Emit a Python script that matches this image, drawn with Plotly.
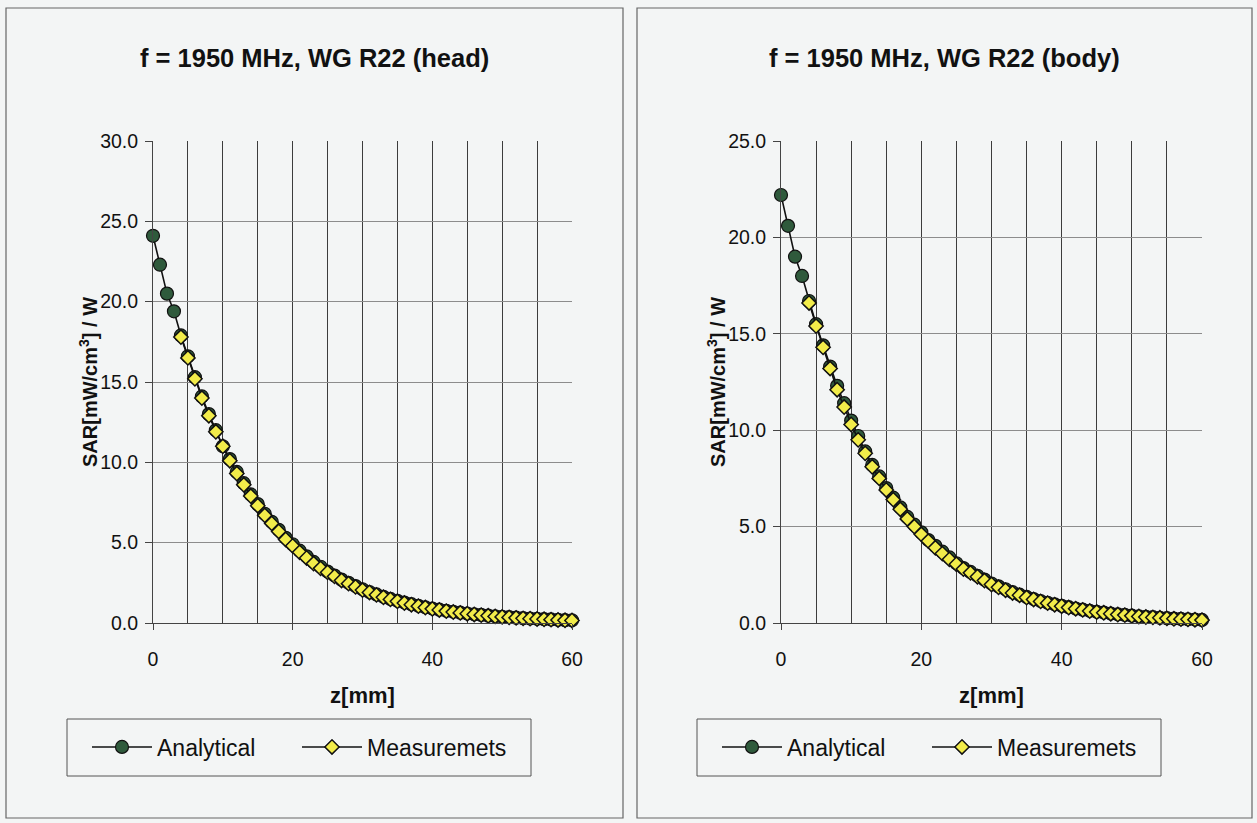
import plotly.graph_objects as go

# ---------------- data ----------------
z_analytical = list(range(0, 61))
z_measured = list(range(4, 61))

head_analytical = [24.1, 22.3, 20.5, 19.4, 17.9, 16.6, 15.3, 14.1, 13.0, 12.0,
                   11.0, 10.2, 9.4, 8.7, 8.0, 7.4, 6.8, 6.3, 5.8, 5.3,
                   4.9, 4.5, 4.15, 3.8, 3.5, 3.2, 2.95, 2.7, 2.5, 2.3,
                   2.1, 1.93, 1.78, 1.63, 1.5, 1.38, 1.27, 1.17, 1.07, 0.98,
                   0.9, 0.83, 0.76, 0.7, 0.64, 0.59, 0.54, 0.5, 0.46, 0.42,
                   0.39, 0.36, 0.33, 0.3, 0.28, 0.26, 0.24, 0.22, 0.2, 0.18, 0.17]
head_measured = [17.8, 16.5, 15.2, 14.0, 12.9, 11.9,
                 11.0, 10.1, 9.3, 8.6, 7.9, 7.3, 6.7, 6.2, 5.7, 5.2,
                 4.8, 4.4, 4.05, 3.7, 3.4, 3.15, 2.9, 2.65, 2.45, 2.25,
                 2.05, 1.9, 1.75, 1.6, 1.47, 1.35, 1.24, 1.14, 1.05, 0.96,
                 0.88, 0.81, 0.74, 0.68, 0.63, 0.58, 0.53, 0.49, 0.45, 0.41,
                 0.38, 0.35, 0.32, 0.29, 0.27, 0.25, 0.23, 0.21, 0.19, 0.17, 0.16]

body_analytical = [22.2, 20.6, 19.0, 18.0, 16.7, 15.5, 14.4, 13.3, 12.3, 11.4,
                   10.5, 9.7, 8.9, 8.2, 7.6, 7.0, 6.5, 6.0, 5.5, 5.1,
                   4.7, 4.3, 4.0, 3.7, 3.4, 3.1, 2.85, 2.65, 2.45, 2.25,
                   2.05, 1.9, 1.75, 1.6, 1.47, 1.35, 1.24, 1.14, 1.05, 0.97,
                   0.89, 0.82, 0.75, 0.69, 0.63, 0.58, 0.54, 0.49, 0.45, 0.42,
                   0.38, 0.35, 0.32, 0.3, 0.27, 0.25, 0.23, 0.21, 0.19, 0.18, 0.16]
body_measured = [16.6, 15.4, 14.3, 13.2, 12.1, 11.2,
                 10.3, 9.5, 8.8, 8.1, 7.5, 6.9, 6.4, 5.9, 5.4, 5.0,
                 4.6, 4.25, 3.9, 3.6, 3.3, 3.05, 2.8, 2.6, 2.4, 2.2,
                 2.0, 1.85, 1.7, 1.56, 1.44, 1.32, 1.22, 1.12, 1.03, 0.95,
                 0.87, 0.8, 0.74, 0.68, 0.62, 0.57, 0.53, 0.48, 0.44, 0.41,
                 0.37, 0.34, 0.31, 0.29, 0.27, 0.24, 0.22, 0.2, 0.19, 0.17, 0.15]

titles = ["f = 1950 MHz, WG R22 (head)", "f = 1950 MHz, WG R22 (body)"]
y_title = "SAR[mW/cm<sup>3</sup>] / W"
x_title = "z[mm]"
x_ticks = [0, 20, 40, 60]
x_grid = [5, 10, 15, 20, 25, 30, 35, 40, 45, 50, 55]
head_y_ticks = [0, 5, 10, 15, 20, 25, 30]
body_y_ticks = [0, 5, 10, 15, 20, 25]

# ---------------- figure ----------------
W, H = 1257, 823
FONT = "Liberation Sans, Arial, sans-serif"
BG = "#f3f5f5"
fig = go.Figure()

def px_x(p):
    return p / W

def px_y(p):
    return 1 - p / H

panels = [
    dict(xa="x", ya="y", xd=[px_x(153), px_x(572)], yvals=head_analytical, mvals=head_measured,
         legend="legend", title=titles[0], cx=314, ytx=88, box=(6, 8, 623, 818),
         lbox=(67, 719, 531, 776)),
    dict(xa="x2", ya="y2", xd=[px_x(781), px_x(1202)], yvals=body_analytical, mvals=body_measured,
         legend="legend2", title=titles[1], cx=944, ytx=716, box=(637, 8, 1252, 818),
         lbox=(697, 719, 1161, 776)),
]

shapes = []
annotations = []
for i, p in enumerate(panels):
    fig.add_trace(go.Scatter(
        x=z_analytical, y=p["yvals"], mode="lines+markers", name="Analytical",
        xaxis=p["xa"], yaxis=p["ya"], legend=p["legend"], cliponaxis=False,
        line=dict(color="#111111", width=1.6),
        marker=dict(symbol="circle", size=13, color="#2f5a3c", line=dict(color="#111111", width=1.2)),
    ))
    fig.add_trace(go.Scatter(
        x=z_measured, y=p["mvals"], mode="lines+markers", name="Measuremets",
        xaxis=p["xa"], yaxis=p["ya"], legend=p["legend"], cliponaxis=False,
        line=dict(color="#111111", width=1.6),
        marker=dict(symbol="diamond", size=11, color="#f2ec4a", line=dict(color="#111111", width=1.5)),
    ))
    x0, y0, x1, y1 = p["box"]
    shapes.append(dict(type="rect", xref="paper", yref="paper", x0=px_x(x0), x1=px_x(x1),
                       y0=px_y(y1), y1=px_y(y0), line=dict(color="#666666", width=1.2),
                       fillcolor="rgba(0,0,0,0)", layer="below"))
    x0, y0, x1, y1 = p["lbox"]
    shapes.append(dict(type="rect", xref="paper", yref="paper", x0=px_x(x0), x1=px_x(x1),
                       y0=px_y(y1), y1=px_y(y0), line=dict(color="#555555", width=1),
                       fillcolor="rgba(0,0,0,0)"))
    annotations.append(dict(text="<b>" + p["title"] + "</b>", xref="paper", yref="paper",
                            x=px_x(p["cx"]), y=px_y(58), xanchor="center", yanchor="middle",
                            showarrow=False, font=dict(family=FONT, size=25.5, color="#111111")))
    annotations.append(dict(text="<b>" + y_title + "</b>", xref="paper", yref="paper",
                            x=px_x(p["ytx"]), y=px_y(382), xanchor="center", yanchor="middle",
                            textangle=-90, showarrow=False,
                            font=dict(family=FONT, size=20, color="#111111")))

axis_common_x = dict(range=[0, 60], tickvals=x_ticks, ticks="outside", ticklen=6, tickcolor="#444",
                     ticklabelstandoff=13, automargin=False,
                     showline=True, linecolor="#444", linewidth=1, zeroline=False,
                     showgrid=False,
                     minor=dict(tickvals=x_grid, showgrid=True, gridcolor="#3c3c3c", gridwidth=1, ticks=""),
                     tickfont=dict(family=FONT, size=19.5, color="#111"),
                     title=dict(text="<b>" + x_title + "</b>", font=dict(family=FONT, size=22, color="#111"),
                                standoff=18))

ydom = [px_y(623), px_y(141)]

def yaxis(ticks, rng):
    return dict(range=rng, domain=ydom, tickvals=ticks, tickformat=".1f", ticks="outside", ticklen=7,
                ticklabelstandoff=3, automargin=False,
                tickcolor="#444", showline=True, linecolor="#444", linewidth=1, zeroline=False,
                showgrid=True, gridcolor="#8c8c8c", gridwidth=1,
                tickfont=dict(family=FONT, size=19.5, color="#111"))

legend_common = dict(orientation="h", xanchor="left", yanchor="middle",
                     bgcolor="rgba(0,0,0,0)", borderwidth=0, itemwidth=60,
                     entrywidth=135, entrywidthmode="pixels",
                     font=dict(family=FONT, size=23, color="#111"), itemclick=False)

fig.update_layout(
    width=W, height=H, margin=dict(l=0, r=0, t=0, b=0, pad=0, autoexpand=False),
    paper_bgcolor=BG, plot_bgcolor=BG,
    xaxis=dict(domain=panels[0]["xd"], anchor="y", **axis_common_x),
    xaxis2=dict(domain=panels[1]["xd"], anchor="y2", **axis_common_x),
    yaxis=dict(anchor="x", **yaxis(head_y_ticks, [0, 30])),
    yaxis2=dict(anchor="x2", **yaxis(body_y_ticks, [0, 25])),
    legend=dict(x=px_x(87), y=px_y(747), **legend_common),
    legend2=dict(x=px_x(717), y=px_y(747), **legend_common),
    shapes=shapes, annotations=annotations, showlegend=True,
)

fig.write_html("out.html")
